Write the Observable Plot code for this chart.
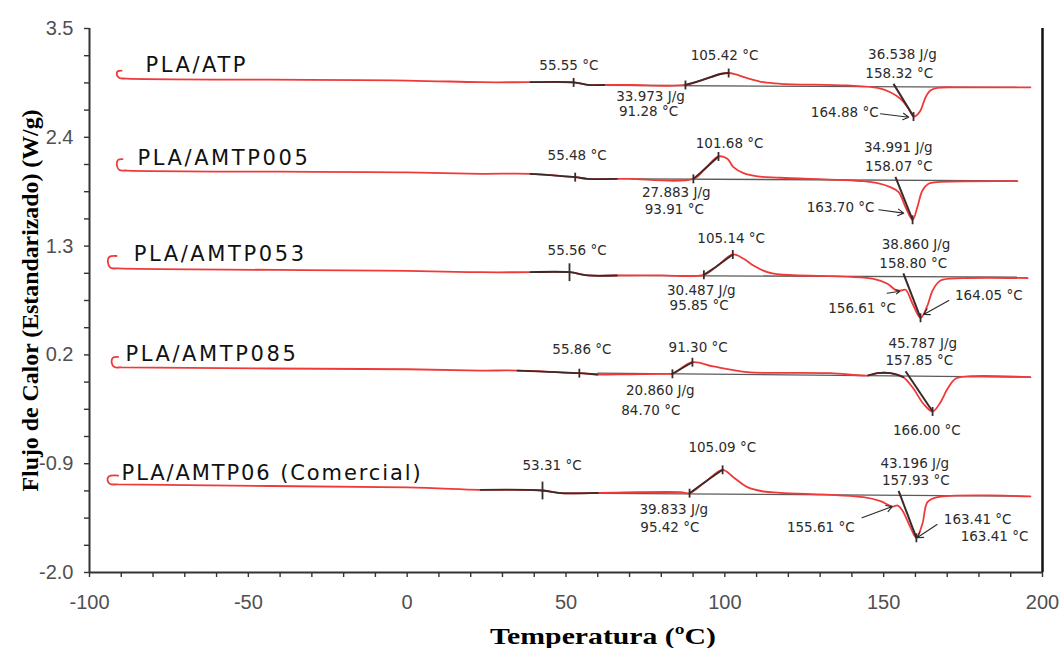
<!DOCTYPE html>
<html><head><meta charset="utf-8">
<script src="https://cdn.jsdelivr.net/npm/d3@7"></script>
<script src="https://cdn.jsdelivr.net/npm/@observablehq/plot@0.6"></script>
<style>html,body{margin:0;padding:0;background:#fff;}#chart{width:1060px;height:648px;}</style>
</head><body><div id="chart"></div>
<script>
// ---------- data (temperature in °C, heat flow in W/g) ----------
const seriesNames = ["PLA/ATP", "PLA/AMTP005", "PLA/AMTP053", "PLA/AMTP085", "PLA/AMTP06 (Comercial)"];

const tempATP = [-89.9, -91.1, -91.4, -90.6, -88.5, 0, 23.1, 38.8, 52.4, 56.8, 62, 70, 87.6, 93, 98.6, 101.2, 103.5, 107.1, 112.2, 117.5, 138.6, 148.1, 152.1, 155.3, 157.8, 159.4, 160.3, 161.6, 163.2, 164.7, 166.9, 175, 196.2];
const fluxATP = [3.075, 3.068, 3.035, 3.0, 2.994, 2.974, 2.957, 2.957, 2.955, 2.931, 2.929, 2.929, 2.929, 2.98, 3.04, 3.05, 3.035, 2.998, 2.957, 2.941, 2.924, 2.900, 2.856, 2.789, 2.691, 2.610, 2.62, 2.671, 2.805, 2.873, 2.900, 2.905, 2.905];

const temp005 = [-89.6, -91.0, -91.4, -90.6, -88.2, 0, 23.1, 38.8, 52.9, 56.8, 66, 70.3, 90.1, 94, 98.0, 100.8, 102.7, 105.9, 110.3, 117.5, 143.6, 148.1, 152.1, 154.7, 156.9, 159.1, 160.6, 162.2, 164.1, 166.9, 192.1];
const flux005 = [2.18, 2.172, 2.12, 2.07, 2.064, 2.045, 2.031, 2.031, 1.997, 1.980, 1.980, 1.980, 1.980, 2.09, 2.206, 2.183, 2.098, 2.037, 2.004, 1.991, 1.956, 1.936, 1.896, 1.845, 1.693, 1.566, 1.693, 1.862, 1.930, 1.946, 1.956];

const temp053 = [-91.5, -93.8, -94.2, -93.4, -91.0, 0, 23.1, 38.8, 51.1, 56.8, 66, 80, 93.4, 98, 102.5, 105.9, 109.0, 113.4, 117.5, 146.8, 151.2, 153.7, 155.3, 156.9, 159.1, 161.6, 163.8, 165.4, 167.9, 175, 195.3];
const flux053 = [1.20, 1.19, 1.135, 1.08, 1.074, 1.05, 1.036, 1.036, 1.036, 1.003, 1.003, 1.005, 1.010, 1.11, 1.215, 1.172, 1.104, 1.036, 1.013, 0.969, 0.919, 0.858, 0.85, 0.858, 0.717, 0.575, 0.700, 0.851, 0.952, 0.976, 0.976];

const temp085 = [-91.0, -92.6, -93.0, -92.2, -89.8, 0, 23.1, 34.7, 54.2, 59.9, 70, 81.9, 83.5, 89.8, 96.4, 107.1, 117.5, 133.3, 145.2, 148.1, 152.1, 156.2, 159.4, 162.5, 165.4, 167.9, 170.1, 172.6, 176.4, 196.2];
const flux085 = [0.18, 0.172, 0.12, 0.078, 0.073, 0.055, 0.042, 0.042, 0.015, 0.002, 0.004, 0.009, 0.009, 0.126, 0.083, 0.025, 0.019, 0.015, -0.008, 0.015, 0.015, -0.025, -0.143, -0.294, -0.372, -0.278, -0.143, -0.042, -0.018, -0.025];

const temp06 = [-91.0, -93.9, -94.3, -93.5, -91.0, 0, 23.1, 42.6, 48.3, 60, 86.0, 88.9, 94, 99.3, 102.7, 107.1, 112.2, 117.5, 143.6, 149.0, 152.8, 154.4, 155.9, 158.4, 160.3, 162.2, 163.8, 166.9, 196.2];
const flux06 = [-1.02, -1.028, -1.07, -1.105, -1.110, -1.14, -1.164, -1.171, -1.198, -1.195, -1.188, -1.198, -1.08, -0.962, -1.036, -1.137, -1.181, -1.194, -1.239, -1.279, -1.333, -1.323, -1.373, -1.542, -1.649, -1.508, -1.289, -1.239, -1.231];

// analysed temperature ranges (drawn darker)
const analysedRanges = [
  [[38.8, 62], [87.6, 101.2]],
  [[38.8, 66], [90.1, 98.0]],
  [[38.8, 66], [93.4, 102.5]],
  [[34.7, 59.9], [83.5, 89.8], [145.2, 156.2]],
  [[23.1, 60], [88.9, 99.3]]
];

// analysis markers: Tg, onset, crystallisation peak, melting peak
const markerTemps = [[52.4, 87.6, 101.2, 159.4], [52.9, 90.1, 98.0, 159.1], [51.1, 93.4, 102.5, 161.6], [54.2, 83.5, 89.8, 165.4], [42.6, 88.9, 99.3, 160.3]];
const markerFlux  = [[2.955, 2.929, 3.05, 2.61], [1.997, 1.980, 2.206, 1.566], [1.036, 1.010, 1.215, 0.575], [0.015, 0.009, 0.126, -0.372], [-1.171, -1.198, -0.962, -1.649]];
const tallTgSeries = ["PLA/AMTP053", "PLA/AMTP06 (Comercial)"];

// melting tangent lines [t1, v1, t2, v2]
const meltTangents = [[153.1, 2.94, 159.4, 2.61], [153.7, 2.0, 159.1, 1.566], [156.2, 1.025, 161.6, 0.575], [156.9, 0.035, 165.4, -0.372], [154.7, -1.175, 160.3, -1.649]];
// integration baselines [t1, v1, t2, v2]
const baselines = [[60.9, 2.926, 196.2, 2.905], [70.3, 1.980, 192.1, 1.960], [56.8, 1.005, 195.3, 0.986], [59.9, 0.015, 196.2, -0.025], [48.3, -1.198, 196.2, -1.228]];

// series name labels
const nameTemps = [-82.4, -84.9, -86.1, -88.7, -89.9];
const nameFlux  = [3.126, 2.186, 1.215, 0.204, -0.999];

// annotation texts (centred)
const noteTexts = ["55.55 °C", "105.42 °C", "33.973 J/g", "91.28 °C", "36.538 J/g", "158.32 °C",
  "55.48 °C", "101.68 °C", "27.883 J/g", "93.91 °C", "34.991 J/g", "158.07 °C",
  "55.56 °C", "105.14 °C", "30.487 J/g", "95.85 °C", "38.860 J/g", "158.80 °C", "156.61 °C", "164.05 °C",
  "55.86 °C", "91.30 °C", "20.860 J/g", "84.70 °C", "45.787 J/g", "157.85 °C", "166.00 °C",
  "53.31 °C", "105.09 °C", "39.833 J/g", "95.42 °C", "43.196 J/g", "157.93 °C", "155.61 °C", "163.41 °C", "163.41 °C"];
const noteTemps = [50.9, 99.9, 76.6, 76.0, 155.9, 154.9,
  53.5, 101.5, 84.7, 84.1, 154.6, 154.8,
  53.5, 102.0, 92.6, 91.9, 160.2, 159.3, 143.2, 183.1,
  55.0, 91.6, 79.7, 76.7, 162.3, 161.2, 163.6,
  45.6, 99.2, 83.9, 82.7, 159.8, 160.1, 130.2, 179.6, 184.9];
const noteFlux = [3.126, 3.227, 2.815, 2.661, 3.232, 3.048,
  2.216, 2.340, 1.845, 1.667, 2.300, 2.098,
  1.249, 1.374, 0.851, 0.700, 1.311, 1.121, 0.666, 0.800,
  0.252, 0.272, -0.160, -0.362, 0.310, 0.145, -0.564,
  -0.918, -0.733, -1.366, -1.548, -0.903, -1.068, -1.542, -1.462, -1.641];
// annotation texts ending at an arrow (right aligned)
const arrowNoteTexts = ["164.88 °C", "163.70 °C"];
const arrowNoteTemps = [148.4, 147.1];
const arrowNoteFlux = [2.654, 1.687];

// pointer arrows [t1, v1, t2, v2]
const pointerArrows = [[149.0, 2.638, 157.9, 2.603], [148.5, 1.667, 156.3, 1.633], [151.1, 0.824, 155.1, 0.844],
  [170.5, 0.750, 162.6, 0.608], [143.2, -1.447, 152.7, -1.333], [166.8, -1.515, 160.5, -1.649]];

// axes
const xTickValues = [-100, -50, 0, 50, 100, 150, 200];
const xTickLabels = ["-100", "-50", "0", "50", "100", "150", "200"];
const yTickValues = [-2.0, -0.9, 0.2, 1.3, 2.4, 3.5];
const yTickLabels = ["-2.0", "-0.9", "0.2", "1.3", "2.4", "3.5"];
const xTitle = "Temperatura (ºC)";
const yTitle = "Flujo de Calor (Estandarizado) (W/g)";

// ---------- build tables ----------
const temps = [tempATP, temp005, temp053, temp085, temp06];
const fluxes = [fluxATP, flux005, flux053, flux085, flux06];
const points = [];
seriesNames.forEach((name, i) => temps[i].forEach((t, j) => points.push({name, t, v: fluxes[i][j]})));

const darkPoints = [];
seriesNames.forEach((name, i) => analysedRanges[i].forEach(([a, b], k) => {
  temps[i].forEach((t, j) => { if (t >= a && t <= b) darkPoints.push({seg: name + k, t, v: fluxes[i][j]}); });
}));

const markers = [];
seriesNames.forEach((name, i) => markerTemps[i].forEach((t, j) => markers.push({t, v: markerFlux[i][j], tall: j === 0 && tallTgSeries.includes(name)})));

const segRows = a => a.map(([t1, v1, t2, v2]) => ({t1, v1, t2, v2}));
const names = seriesNames.map((name, i) => ({name, t: nameTemps[i], v: nameFlux[i]}));
const notes = noteTexts.map((text, i) => ({text, t: noteTemps[i], v: noteFlux[i]}));
const arrowNotes = arrowNoteTexts.map((text, i) => ({text, t: arrowNoteTemps[i], v: arrowNoteFlux[i]}));

const red = "#f03a3a", dark = "#3a2a2a";
const noteStyle = {fontFamily: "DejaVu Sans", fontSize: 13.5, fill: "#2b2b2b"};

const chart = Plot.plot({
  width: 1060, height: 648,
  marginLeft: 89, marginRight: 18, marginTop: 28, marginBottom: 76,
  x: {domain: [-100, 200]},
  y: {domain: [-2.0, 3.5]},
  style: {background: "#fff"},
  marks: [
    Plot.link(segRows(baselines), {x1: "t1", y1: "v1", x2: "t2", y2: "v2", stroke: "#5a5a5a", strokeWidth: 1.3}),
    Plot.line(points, {x: "t", y: "v", z: "name", stroke: red, strokeWidth: 1.8, curve: "catmull-rom"}),
    Plot.line(darkPoints, {x: "t", y: "v", z: "seg", stroke: dark, strokeWidth: 1.8, curve: "catmull-rom"}),
    Plot.link(segRows(meltTangents), {x1: "t1", y1: "v1", x2: "t2", y2: "v2", stroke: dark, strokeWidth: 2}),
    Plot.link(markers, {x1: "t", x2: "t", y1: d => d.v - (d.tall ? 0.09 : 0.045), y2: d => d.v + (d.tall ? 0.09 : 0.045), stroke: dark, strokeWidth: 1.8}),
    Plot.arrow(segRows(pointerArrows), {x1: "t1", y1: "v1", x2: "t2", y2: "v2", stroke: "#2a2a2a", strokeWidth: 1.1, headLength: 9}),
    Plot.text(names, {x: "t", y: "v", text: "name", textAnchor: "start", fontFamily: "DejaVu Sans", fontSize: 21, fill: "#111"}),
    Plot.text(notes, {x: "t", y: "v", text: "text", textAnchor: "middle", ...noteStyle}),
    Plot.text(arrowNotes, {x: "t", y: "v", text: "text", textAnchor: "end", ...noteStyle}),
    // axes
    Plot.axisX(d3.range(-100, 201, 10), {tickSize: 5, tickFormat: () => "", stroke: "#333", strokeWidth: 1.4, label: null}),
    Plot.axisX(xTickValues, {tickSize: 0, tickPadding: 22, tickFormat: d => xTickLabels[xTickValues.indexOf(d)], fontSize: 20, fontFamily: "Liberation Sans", color: "#505050", label: null}),
    Plot.axisY(d3.range(0, 21).map(i => +(-2 + i * 0.275).toFixed(3)), {tickSize: 5, tickFormat: () => "", stroke: "#333", strokeWidth: 1.4, label: null}),
    Plot.axisY(yTickValues, {tickSize: 0, tickPadding: 16, tickFormat: d => yTickLabels[yTickValues.indexOf(d)], fontSize: 20, fontFamily: "Liberation Sans", color: "#505050", label: null}),
    Plot.ruleX([-100], {stroke: "#333", strokeWidth: 2}),
    Plot.ruleX([200], {stroke: "#111", strokeWidth: 2.5}),
    Plot.ruleY([-2.0], {stroke: "#333", strokeWidth: 2}),
    Plot.text([yTitle], {text: d => d, frameAnchor: "left", rotate: -90, dx: -59, textAnchor: "middle", lineAnchor: "middle", fontFamily: "Liberation Serif", fontWeight: "bold", fontSize: 24, fill: "#000"}),
    Plot.text([xTitle], {text: d => d, frameAnchor: "bottom", dx: 37, dy: 64, textAnchor: "middle", lineAnchor: "middle", fontFamily: "Liberation Serif", fontWeight: "bold", fontSize: 24, fill: "#000"})
  ]
});
document.getElementById("chart").appendChild(chart);
const svg = d3.select(chart);
svg.selectAll("text").filter(function () { return this.textContent === xTitle; })
  .attr("textLength", 226).attr("lengthAdjust", "spacingAndGlyphs");
svg.selectAll("text").filter(function () { return this.textContent === yTitle; })
  .attr("textLength", 382).attr("lengthAdjust", "spacingAndGlyphs");
svg.selectAll("text").filter(function () { return seriesNames.includes(this.textContent); })
  .style("letter-spacing", function () { return this.textContent.length > 12 ? "1.9px" : "2.6px"; });
</script>
</body></html>
